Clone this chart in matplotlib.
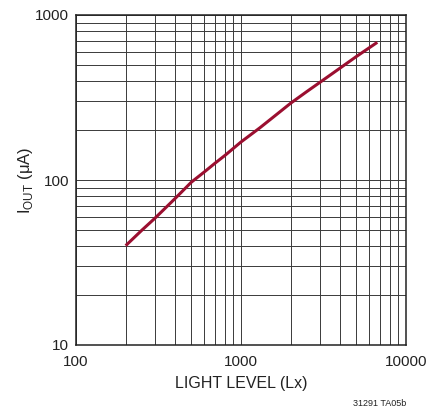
import matplotlib
matplotlib.use("Agg")
import matplotlib.pyplot as plt
from matplotlib.ticker import LogLocator, NullFormatter, FixedLocator, FixedFormatter

#---- Donnees
light_lx = [200, 250, 300, 350, 400, 500, 600, 700, 800, 1000, 1300, 1500,
            2000, 2500, 3000, 4000, 5000, 6700]
iout_ua = [40, 49.5, 58.5, 68, 77.5, 97, 112, 127, 141, 170, 207, 232,
           292, 343, 390, 478, 560, 683]

x_ticks = [100, 1000, 10000]
x_labels = ["100", "1000", "10000"]
y_ticks = [10, 100, 1000]
y_labels = ["10", "100", "1000"]

plt.rcParams['font.family'] = ['Liberation Sans Narrow', 'Liberation Sans', 'DejaVu Sans']

fig = plt.figure(figsize=(4.43, 4.12), dpi=100)
ax = fig.add_axes([76 / 443, 1 - 345 / 412, 330 / 443, 330 / 412])

ax.set_xscale('log')
ax.set_yscale('log')
ax.set_xlim(100, 10000)
ax.set_ylim(10, 1000)

#---- Grille
ax.xaxis.set_major_locator(FixedLocator(x_ticks))
ax.xaxis.set_major_formatter(FixedFormatter(x_labels))
ax.yaxis.set_major_locator(FixedLocator(y_ticks))
ax.yaxis.set_major_formatter(FixedFormatter(y_labels))
ax.xaxis.set_minor_locator(LogLocator(base=10, subs=range(2, 10)))
ax.yaxis.set_minor_locator(LogLocator(base=10, subs=range(2, 10)))
ax.xaxis.set_minor_formatter(NullFormatter())
ax.yaxis.set_minor_formatter(NullFormatter())
ax.grid(True, which='both', color='#3a3a3a', linewidth=0.7)
ax.tick_params(which='both', length=0, labelsize=11, colors='#222222')
ax.tick_params(axis='x', pad=7)
ax.tick_params(axis='y', pad=5)
for s in ax.spines.values():
    s.set_color('#222222')
    s.set_linewidth(1.1)

#---- Courbe
ax.plot(light_lx, iout_ua, color='#9b0f30', linewidth=2.2, solid_capstyle='butt',
        solid_joinstyle='round', zorder=3)

ax.set_xlabel("LIGHT LEVEL (Lx)", fontsize=11.5, color='#222222', labelpad=5)
ax.set_ylabel(r"I$_{\mathregular{OUT}}$ (μA)", fontsize=12, color='#222222')
ax.yaxis.set_label_coords(-0.125, 0.5)

fig.text(406 / 443, 1 - 404 / 412, "31291 TA05b", fontsize=6.5, ha='right', va='center', color='#222222')

fig.savefig("out.png", dpi=100)
